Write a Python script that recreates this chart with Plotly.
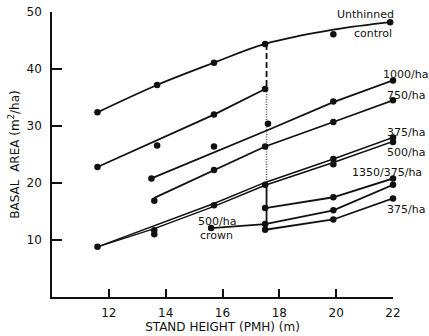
import plotly.graph_objects as go

# ---------------- data ----------------
# Unthinned control
unthinned_fit_x = [11.6, 13.7, 15.7, 17.5, 19.9, 22.05]
unthinned_fit_y = [32.4, 37.2, 41.1, 44.4, 46.9, 48.3]
unthinned_obs_x = [11.6, 13.7, 15.7, 17.5, 19.9, 21.9]
unthinned_obs_y = [32.4, 37.2, 41.1, 44.4, 46.1, 48.2]

# Pre-thinning stand (before 17.5 m)
pre_fit_x = [11.6, 15.7, 17.5]
pre_fit_y = [22.8, 32.0, 36.5]
pre_obs_x = [11.6, 13.7, 15.7, 17.5]
pre_obs_y = [22.8, 26.6, 32.0, 36.5]

# 1000/ha
t1000_fit_x = [13.5, 15.7, 17.6, 19.9, 22.0]
t1000_fit_y = [20.8, 25.3, 29.3, 34.2, 38.0]
t1000_obs_x = [13.5, 15.7, 17.6, 19.9, 22.0]
t1000_obs_y = [20.8, 26.4, 30.4, 34.3, 38.0]

# 750/ha
t750_fit_x = [13.6, 15.7, 17.5, 19.9, 22.0]
t750_fit_y = [17.4, 22.3, 26.4, 30.7, 34.5]
t750_obs_x = [13.6, 15.7, 17.5, 19.9, 22.0]
t750_obs_y = [16.9, 22.3, 26.4, 30.7, 34.5]

# 375/ha and 500/ha (double lines)
t375_fit_x = [11.6, 13.6, 15.7, 17.5, 19.9, 22.0]
t375_fit_y = [8.8, 12.5, 16.4, 20.1, 24.2, 28.0]
t500_fit_x = [11.6, 13.6, 15.7, 17.5, 19.9, 22.0]
t500_fit_y = [8.8, 12.0, 15.9, 19.6, 23.6, 27.3]
t375_obs_x = [11.6, 13.6, 15.7, 17.5, 19.9, 22.0]
t375_obs_y = [8.8, 11.7, 16.1, 19.7, 24.2, 28.0]
t500_obs_x = [13.6, 19.9, 22.0]
t500_obs_y = [11.0, 23.3, 27.2]

# Second thinning at 17.5 m
t1350_375_x = [17.5, 19.9, 22.0]
t1350_375_y = [15.6, 17.5, 20.8]
crown500_x = [15.6, 17.5, 19.9, 22.0]
crown500_y = [12.1, 12.8, 15.2, 19.7]
t375b_x = [17.5, 19.9, 22.0]
t375b_y = [11.8, 13.6, 17.3]

# Thinning height marker
thin_x = 17.55
dash_seg_y = [44.4, 36.5]
dot_seg_y = [36.5, 19.7]
solid_seg_y = [19.7, 11.8]

x_ticks = [12, 14, 16, 18, 20, 22]
y_ticks = [10, 20, 30, 40, 50]
X_RANGE = [10, 22]
Y_RANGE = [0, 50]

# Curve labels: (text, x, y) in data units
labels = [
    ("Unthinned", 21.03, 49.5),
    ("control", 21.3, 46.3),
    ("1000/ha", 22.45, 39.1),
    ("750/ha", 22.45, 35.4),
    ("375/ha", 22.45, 28.9),
    ("500/ha", 22.45, 25.4),
    ("1350/375/ha", 21.8, 21.9),
    ("375/ha", 22.45, 15.4),
    ("500/ha", 15.8, 13.3),
    ("crown", 15.8, 10.8),
]

# ---------------- figure ----------------
INK = "#111111"
FONT = "DejaVu Sans"
LW = 1.8
fig = go.Figure()

def line(x, y, shape="linear", dash="solid", width=LW, color=INK):
    fig.add_trace(go.Scatter(x=x, y=y, mode="lines",
                             line=dict(color=color, width=width, shape=shape, dash=dash),
                             showlegend=False, hoverinfo="skip"))

def dots(x, y):
    fig.add_trace(go.Scatter(x=x, y=y, mode="markers",
                             marker=dict(color=INK, size=6.5),
                             cliponaxis=False, showlegend=False))

line(unthinned_fit_x, unthinned_fit_y, shape="spline")
line(pre_fit_x, pre_fit_y)
line(t1000_fit_x, t1000_fit_y)
line(t750_fit_x, t750_fit_y)
line(t375_fit_x, t375_fit_y, width=1.5)
line(t500_fit_x, t500_fit_y, width=1.5)
line(t1350_375_x, t1350_375_y)
line(crown500_x, crown500_y)
line(t375b_x, t375b_y)

line([thin_x, thin_x], dash_seg_y, dash="6px,3px", width=1.8)
line([thin_x, thin_x], dot_seg_y, dash="1px,1.5px", width=1.6, color="#555555")
line([thin_x, thin_x], solid_seg_y, width=LW)

dots(unthinned_obs_x, unthinned_obs_y)
dots(pre_obs_x, pre_obs_y)
dots(t1000_obs_x, t1000_obs_y)
dots(t750_obs_x, t750_obs_y)
dots(t375_obs_x, t375_obs_y)
dots(t500_obs_x, t500_obs_y)
dots(t1350_375_x, t1350_375_y)
dots(crown500_x, crown500_y)
dots(t375b_x, t375b_y)

for text, x, y in labels:
    px = (x - X_RANGE[0]) / (X_RANGE[1] - X_RANGE[0])
    py = (y - Y_RANGE[0]) / (Y_RANGE[1] - Y_RANGE[0])
    fig.add_annotation(x=px, y=py, xref="paper", yref="paper", text=text,
                       showarrow=False, xanchor="center", yanchor="middle",
                       font=dict(family=FONT, size=11, color=INK))

axis_common = dict(showline=True, linecolor=INK, linewidth=1.6, ticks="inside",
                   tickcolor=INK, tickwidth=1.6, showgrid=False, zeroline=False,
                   tickfont=dict(family=FONT, size=12, color=INK),
                   mirror=False, automargin=False)

fig.update_xaxes(range=X_RANGE, tickvals=x_ticks, ticklen=8, ticklabelstandoff=4,
                 title=dict(text="STAND HEIGHT (PMH) (m)", standoff=2,
                            font=dict(family=FONT, size=12, color=INK)),
                 **axis_common)
fig.update_yaxes(range=Y_RANGE, tickvals=y_ticks, ticklen=10, ticklabelstandoff=6,
                 title=dict(text="BASAL  AREA (m<sup>2</sup>/ha)", standoff=4,
                            font=dict(family=FONT, size=12, color=INK)),
                 **axis_common)

fig.update_layout(width=429, height=336, margin=dict(l=52, r=36, t=12, b=39, autoexpand=False),
                  paper_bgcolor="white", plot_bgcolor="white",
                  font=dict(family=FONT, color=INK))

fig.write_html("out.html", config={"displayModeBar": False},
               post_script="document.body.style.margin='0';")
